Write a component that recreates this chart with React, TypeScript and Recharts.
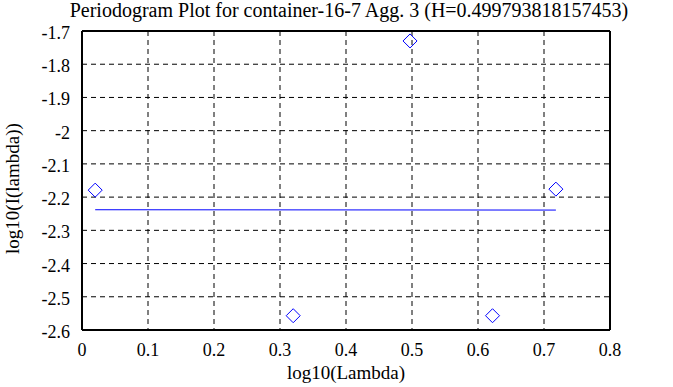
import { ComposedChart, Scatter, XAxis, YAxis, CartesianGrid, Label } from "recharts";

const title = "Periodogram Plot for container-16-7 Agg. 3 (H=0.499793818157453)";
const xTicks = [0, 0.1, 0.2, 0.3, 0.4, 0.5, 0.6, 0.7, 0.8];
const yTicks = [-2.6, -2.5, -2.4, -2.3, -2.2, -2.1, -2, -1.9, -1.8, -1.7];

const pointX = [0.02, 0.32, 0.497, 0.622, 0.718];
const pointY = [-2.179, -2.557, -1.730, -2.557, -2.176];
const fitX = [0.02, 0.718];
const fitY = [-2.238, -2.239];

const points = pointX.map((x, i) => ({ x, y: pointY[i] }));
const fit = fitX.map((x, i) => ({ x, y: fitY[i] }));

const font = "Liberation Serif, Times New Roman, serif";
const fsize = 18;

const XTick = (props: any) => {
  const { x, y, payload } = props;
  return (
    <text x={x} y={y + 18} textAnchor="middle" fontFamily={font} fontSize={fsize} fill="#000">
      {String(payload.value)}
    </text>
  );
};

const YTick = (props: any) => {
  const { x, y, payload } = props;
  return (
    <text x={x - 4} y={y + 8} textAnchor="end" fontFamily={font} fontSize={fsize} fill="#000">
      {String(payload.value)}
    </text>
  );
};

const Diamond = (props: any) => {
  const { cx, cy } = props;
  const r = 7;
  return (
    <path
      d={`M${cx},${cy - r} L${cx + r},${cy} L${cx},${cy + r} L${cx - r},${cy} Z`}
      fill="none"
      stroke="#0000ff"
      strokeWidth={1}
    />
  );
};

const YLabel = (props: any) => {
  const vb = props.viewBox || {};
  const cx = 12;
  const cy = (vb.y ?? 31) + (vb.height ?? 299) / 2 + 8;
  return (
    <text
      x={cx}
      y={cy}
      transform={`rotate(-90 ${cx} ${cy})`}
      textAnchor="middle"
      dominantBaseline="central"
      fontFamily={font}
      fontSize={19}
      fill="#000"
    >
      log10(I(lambda))
    </text>
  );
};

export default function App() {
  return (
    <div style={{ position: "absolute", left: 0, top: 0, width: 673, height: 387, background: "#fff" }}>
      <div
        style={{
          position: "absolute",
          left: 0,
          top: 0,
          width: 698,
          textAlign: "center",
          fontFamily: font,
          fontSize: 20,
          lineHeight: "20px",
          color: "#000",
        }}
      >
        {title}
      </div>
      <ComposedChart width={673} height={387} margin={{ top: 31, right: 63, bottom: 27, left: 0 }}>
        <CartesianGrid xAxisId="b" yAxisId="l" stroke="#000" strokeDasharray="5 4" strokeWidth={1} />
        <XAxis
          xAxisId="b"
          type="number"
          dataKey="x"
          domain={[0, 0.8]}
          ticks={xTicks}
          tick={<XTick />}
          tickLine={false}
          axisLine={{ stroke: "#000", strokeWidth: 2 }}
          height={30}
          interval={0}
        >
          <Label
            value="log10(Lambda)"
            position="insideBottom"
            offset={-19}
            style={{ fontFamily: font, fontSize: 19, fill: "#000" }}
          />
        </XAxis>
        <XAxis
          xAxisId="t"
          orientation="top"
          type="number"
          dataKey="x"
          domain={[0, 0.8]}
          ticks={xTicks}
          mirror
          tick={false}
          tickSize={6}
          tickLine={{ stroke: "#000", strokeWidth: 1 }}
          axisLine={{ stroke: "#000", strokeWidth: 2 }}
          height={1}
        />
        <YAxis
          yAxisId="l"
          type="number"
          dataKey="y"
          domain={[-2.6, -1.7]}
          ticks={yTicks}
          tick={<YTick />}
          tickLine={false}
          axisLine={{ stroke: "#000", strokeWidth: 2 }}
          width={82}
          interval={0}
        >
          <Label content={<YLabel />} />
        </YAxis>
        <YAxis
          yAxisId="r"
          orientation="right"
          type="number"
          dataKey="y"
          domain={[-2.6, -1.7]}
          ticks={yTicks}
          mirror
          tick={false}
          tickSize={6}
          tickLine={{ stroke: "#000", strokeWidth: 1 }}
          axisLine={{ stroke: "#000", strokeWidth: 2 }}
          width={1}
        />
        <Scatter
          xAxisId="b"
          yAxisId="l"
          data={fit}
          line={{ stroke: "#0000ff", strokeWidth: 1 }}
          shape={() => null}
          isAnimationActive={false}
        />
        <Scatter xAxisId="b" yAxisId="l" data={points} shape={Diamond} isAnimationActive={false} />
      </ComposedChart>
    </div>
  );
}
